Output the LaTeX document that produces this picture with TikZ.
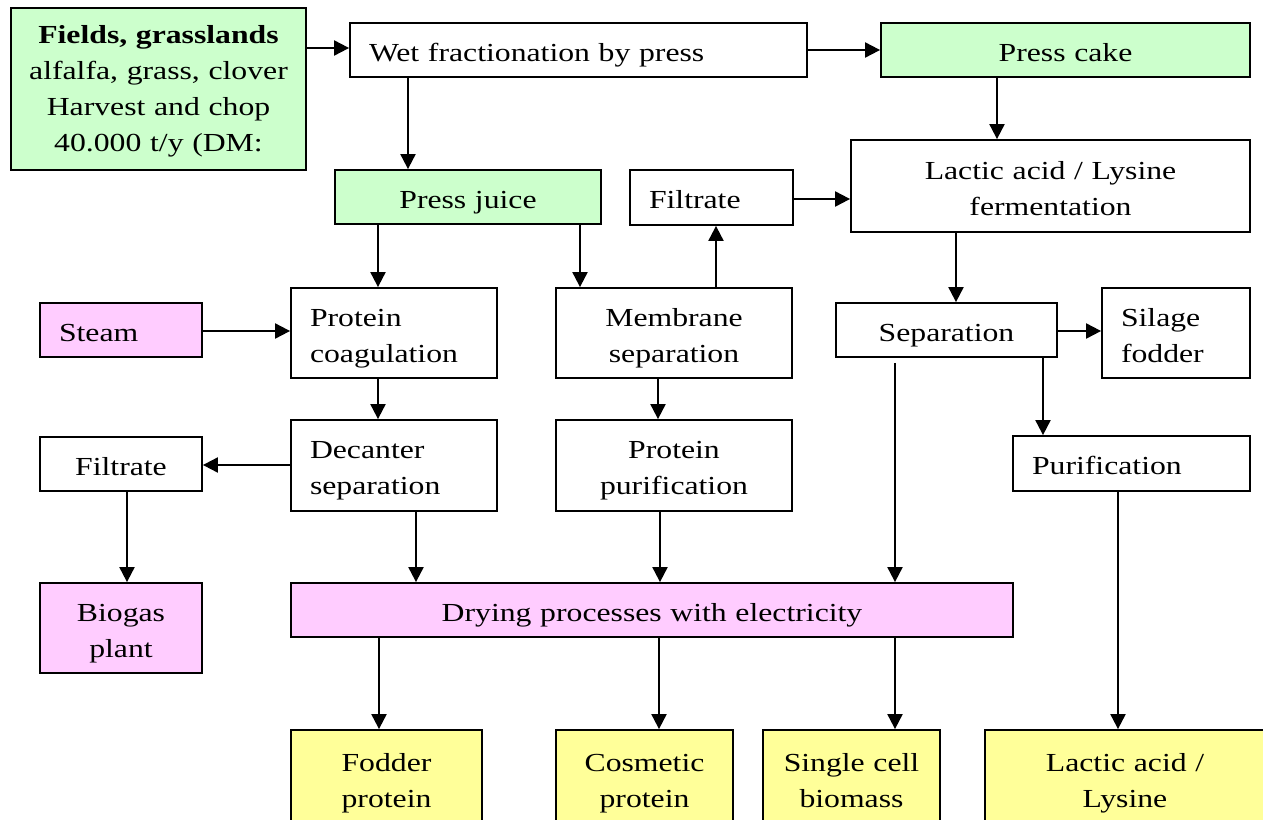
\documentclass[tikz,border=0pt]{standalone}
\usepackage{fontspec}
\setmainfont[FakeStretch=1.22]{Liberation Serif}
\usetikzlibrary{arrows.meta}
\definecolor{gfill}{HTML}{CCFFCC}
\definecolor{pfill}{HTML}{FFCCFF}
\definecolor{yfill}{HTML}{FFFF99}
\def\toph{30pt}
\tikzset{
  toph/.code={\def\toph{#1}},
  box/.style={draw=black, line width=1.8pt, rectangle, inner ysep=0pt,
    font=\fontsize{26pt}{36pt}\selectfont,
    execute at begin node={\rule{0pt}{\toph}},
    execute at end node={\rule[-8pt]{0pt}{8pt}}},
  arr/.style={line width=2pt, -{Triangle[length=15pt,width=15pt]}},
}
% centred box: name, x1, y1, x2, y2, style, text
\newcommand\bxc[7]{%
  \pgfmathsetmacro\bw{#4-#2}\pgfmathsetmacro\bh{#5-#3}\pgfmathsetmacro\tw{#4-#2-4}%
  \node[box,#6,inner xsep=2pt,align=center,text width=\tw pt,minimum width=\bw pt,minimum height=\bh pt]
    (#1) at ({(#2+#4)/2},{(#3+#5)/2}) {#7};}
% left-aligned box
\newcommand\bxl[7]{%
  \pgfmathsetmacro\bw{#4-#2}\pgfmathsetmacro\bh{#5-#3}\pgfmathsetmacro\tw{#4-#2-38}%
  \node[box,#6,inner xsep=19pt,align=left,text width=\tw pt,minimum width=\bw pt,minimum height=\bh pt]
    (#1) at ({(#2+#4)/2},{(#3+#5)/2}) {#7};}
\begin{document}
\begin{tikzpicture}[x=1pt,y=-1pt]
\clip (0,0) rectangle (1263,819);
\fill[white] (0,0) rectangle (1263,819);
% row 1
\bxc{fields}{11}{8}{306}{170}{fill=gfill,line width=2.3pt,toph=24pt}{\textbf{Fields, grasslands}\\alfalfa, grass, clover\\Harvest and chop\\40.000 t/y (DM:}
\bxl{wet}{350}{23}{807}{77}{fill=white}{Wet fractionation by press}
\bxc{cake}{881}{23}{1250}{77}{fill=gfill}{Press cake}
% row 2
\bxc{juice}{335}{170}{601}{224}{fill=gfill}{Press juice}
\bxl{filt1}{630}{170}{793}{225}{fill=white}{Filtrate}
\bxc{ferm}{851}{140}{1250}{232}{fill=white}{Lactic acid / Lysine\\fermentation}
% row 3
\bxl{steam}{40}{303}{202}{357}{fill=pfill}{Steam}
\bxl{coag}{291}{288}{497}{378}{fill=white}{Protein\\coagulation}
\bxc{memb}{556}{288}{792}{378}{fill=white}{Membrane\\separation}
\bxc{sep}{836}{303}{1057}{357}{fill=white}{Separation}
\bxl{silage}{1102}{288}{1250}{378}{fill=white}{Silage\\fodder}
% row 4
\bxc{filt2}{40}{437}{202}{491}{fill=white}{Filtrate}
\bxl{dec}{291}{420}{497}{511}{fill=white}{Decanter\\separation}
\bxc{ppur}{556}{420}{792}{511}{fill=white}{Protein\\purification}
\bxl{pur}{1013}{436}{1250}{491}{fill=white}{Purification}
% row 5
\bxc{biogas}{40}{583}{202}{673}{fill=pfill}{Biogas\\plant}
\bxc{dry}{291}{583}{1013}{637}{fill=pfill}{Drying processes with electricity}
% row 6
\bxc{fod}{291}{730}{482}{826}{fill=yfill}{Fodder\\protein}
\bxc{cos}{556}{730}{733}{826}{fill=yfill}{Cosmetic\\protein}
\bxc{scb}{763}{730}{940}{826}{fill=yfill}{Single cell\\biomass}
\bxc{lys}{985}{730}{1265}{826}{fill=yfill}{Lactic acid /\\Lysine}
% connectors
\draw[arr] (fields.east |- 0,48) -- (wet.west |- 0,48);
\draw[arr] (wet.east |- 0,50) -- (cake.west |- 0,50);
\draw[arr] (wet.south -| 408,0) -- (juice.north -| 408,0);
\draw[arr] (cake.south -| 997,0) -- (ferm.north -| 997,0);
\draw[arr] (filt1.east |- 0,199) -- (ferm.west |- 0,199);
\draw[arr] (juice.south -| 378,0) -- (coag.north -| 378,0);
\draw[arr] (juice.south -| 580,0) -- (memb.north -| 580,0);
\draw[arr] (memb.north -| 716,0) -- (filt1.south -| 716,0);
\draw[arr] (ferm.south -| 956,0) -- (sep.north -| 956,0);
\draw[arr] (sep.east |- 0,331) -- (silage.west |- 0,331);
\draw[arr] (sep.south -| 1043,0) -- (pur.north -| 1043,0);
\draw[arr] (steam.east |- 0,331) -- (coag.west |- 0,331);
\draw[arr] (coag.south -| 378,0) -- (dec.north -| 378,0);
\draw[arr] (dec.west |- 0,465) -- (filt2.east |- 0,465);
\draw[arr] (memb.south -| 658,0) -- (ppur.north -| 658,0);
\draw[arr] (filt2.south -| 127,0) -- (biogas.north -| 127,0);
\draw[arr] (dec.south -| 416,0) -- (dry.north -| 416,0);
\draw[arr] (ppur.south -| 660,0) -- (dry.north -| 660,0);
\draw[arr,shorten <=5pt] (sep.south -| 895,0) -- (dry.north -| 895,0);
\draw[arr] (pur.south -| 1118,0) -- (lys.north -| 1118,0);
\draw[arr] (dry.south -| 379,0) -- (fod.north -| 379,0);
\draw[arr] (dry.south -| 659,0) -- (cos.north -| 659,0);
\draw[arr] (dry.south -| 895,0) -- (scb.north -| 895,0);
\end{tikzpicture}
\end{document}
